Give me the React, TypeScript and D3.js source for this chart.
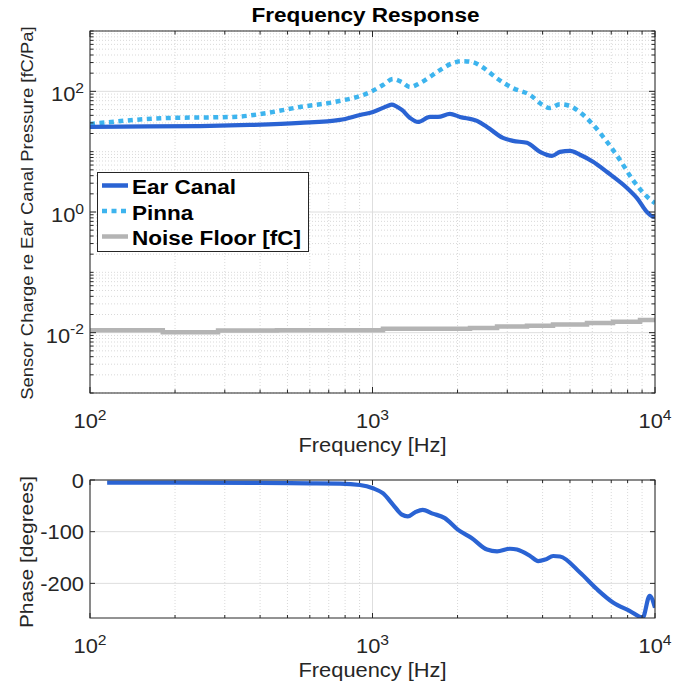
import { useEffect, useRef } from "react"
import * as d3 from "d3"

// ear canal magnitude [fC/Pa]
const earFreq = [100, 163, 245, 368, 554, 767, 903, 1004, 1130, 1170, 1210, 1271, 1358, 1449, 1598, 1706, 1880, 2040, 2344, 2543, 2896, 3142, 3522, 3917, 4318, 4610, 5003, 5426, 6035, 6765, 7962, 8635, 9368, 9839, 10000]
const earCanal = [25.7, 26.2, 26.6, 27.7, 29.9, 33.6, 40.6, 45.5, 57, 60, 57, 49.1, 36.2, 31.1, 37.6, 37.6, 42.2, 37.6, 32.3, 25.7, 16.9, 15.1, 14.0, 9.9, 8.5, 9.9, 10.3, 8.9, 6.8, 4.6, 2.5, 1.7, 1.0, 0.84, 0.84]

// pinna magnitude [fC/Pa]
const pinnaFreq = [100, 187, 321, 423, 554, 725, 980, 1088, 1183, 1271, 1358, 1473, 1733, 1922, 2085, 2260, 2455, 2749, 3142, 3614, 4013, 4244, 4610, 5003, 5426, 6035, 6765, 7514, 8346, 9368, 9839, 10000]
const pinna = [28.7, 36.1, 37.6, 43.8, 55, 66, 97, 127, 160, 142, 118, 137, 225, 294, 316, 305, 251, 166, 113, 87, 59, 53, 61, 57, 45, 28, 14.5, 7.3, 3.4, 1.8, 1.48, 1.4]

// noise floor [fC], stepped
const noiseFreq = [100, 181, 284, 459, 1089, 2214, 2760, 3522, 4355, 5745, 7103, 8851, 10000]
const noiseFloor = [0.011, 0.0102, 0.0109, 0.011, 0.0116, 0.0119, 0.0127, 0.013, 0.0136, 0.0144, 0.0152, 0.0162, 0.0162]

// phase [degrees]
const phaseFreq = [115, 200, 400, 600, 767, 903, 1004, 1088, 1183, 1271, 1333, 1410, 1505, 1633, 1803, 2004, 2242, 2543, 2760, 3067, 3247, 3614, 3858, 4088, 4362, 4610, 5426, 6237, 7103, 8127, 9047, 9574, 10000]
const phase = [-5, -5, -5.5, -6.5, -7, -9.6, -16, -25.6, -48, -67, -70.5, -63, -57.7, -65, -73.7, -96, -112, -134.6, -138, -133, -134.6, -147, -157, -154, -147, -148, -179, -211.5, -237, -253, -266, -224, -247]

const xTickExp = [2, 3, 4]
const magTickExp = [-2, 0, 2]
const phaseTicks = [0, -100, -200]

const legendNames = ["Ear Canal", "Pinna", "Noise Floor [fC]"]

const W = 697, H = 685
const FONT = "'Liberation Sans', Arial, Helvetica, sans-serif"
const AX = "#262626"
const BLUE = "#2a63d3"
const LIGHT = "#3db4ee"
const GRAY = "#b4b4b4"
const SX = 1.12 // text in the reference is a bit wider than Arial

function App() {
  const svgRef = useRef(null)

  useEffect(() => {
    const svg = d3.select(svgRef.current)
    svg.selectAll("*").remove()

    const left = 90, right = 655
    const top1 = 31, bot1 = 393
    const top2 = 480, bot2 = 618

    const x = d3.scaleLog().domain([100, 10000]).range([left, right])
    const y1 = d3.scaleLog().domain([1e-3, 1e3]).range([bot1, top1])
    const y2 = d3.scaleLinear().domain([-267, 0]).range([bot2, top2])

    const isMajorX = (v) => Math.abs(Math.log10(v) - Math.round(Math.log10(v))) < 1e-9
    const xMinor = x.ticks().filter((v) => !isMajorX(v))
    const xMajor = xTickExp.map((e) => Math.pow(10, e))
    const yMajor = magTickExp.map((e) => Math.pow(10, e))
    const yMinor = y1.ticks().filter((v) => !yMajor.some((m) => Math.abs(m - v) / m < 1e-9))

    // text helper: anchored text, stretched horizontally
    const addText = (x0, y0, opts) => {
      const rot = opts.rotate ? ` rotate(${opts.rotate})` : ""
      const g = svg.append("g").attr("transform", `translate(${x0},${y0})${rot} scale(${opts.sx || SX},1)`)
      return g.append("text").attr("x", 0).attr("y", 0)
        .attr("text-anchor", opts.anchor || "middle")
        .attr("font-family", FONT).attr("font-size", opts.size || 19.5)
        .attr("font-weight", opts.bold ? "bold" : "normal")
        .attr("fill", opts.fill || AX)
    }
    const powLabel = (t, e) => {
      t.append("tspan").text("10")
      t.append("tspan").attr("font-size", 14).attr("dy", -8.5).text(String(e))
    }

    const defs = svg.append("defs")
    defs.append("clipPath").attr("id", "clip1").append("rect")
      .attr("x", left).attr("y", top1).attr("width", right - left).attr("height", bot1 - top1)
    defs.append("clipPath").attr("id", "clip2").append("rect")
      .attr("x", left).attr("y", top2).attr("width", right - left).attr("height", bot2 - top2)

    // ---------- top panel ----------
    const g1 = svg.append("g")

    // minor grid
    g1.selectAll(".xminor").data(xMinor).enter().append("line")
      .attr("x1", (d) => x(d)).attr("x2", (d) => x(d)).attr("y1", top1).attr("y2", bot1)
      .attr("stroke", "#cfcfcf").attr("stroke-width", 0.8).attr("stroke-dasharray", "1,2")
    g1.selectAll(".yminor").data(yMinor).enter().append("line")
      .attr("y1", (d) => y1(d)).attr("y2", (d) => y1(d)).attr("x1", left).attr("x2", right)
      .attr("stroke", "#cfcfcf").attr("stroke-width", 0.8).attr("stroke-dasharray", "1,2")
    // major grid
    g1.selectAll(".xmajor").data(xMajor).enter().append("line")
      .attr("x1", (d) => x(d)).attr("x2", (d) => x(d)).attr("y1", top1).attr("y2", bot1)
      .attr("stroke", "#dedede").attr("stroke-width", 1)
    g1.selectAll(".ymajor").data(yMajor).enter().append("line")
      .attr("y1", (d) => y1(d)).attr("y2", (d) => y1(d)).attr("x1", left).attr("x2", right)
      .attr("stroke", "#dedede").attr("stroke-width", 1)

    const lineMag = d3.line().x((d) => x(d[0])).y((d) => y1(d[1])).curve(d3.curveMonotoneX)
    const lines = g1.append("g").attr("clip-path", "url(#clip1)")
    lines.append("path")
      .attr("d", d3.line().x((d) => x(d[0])).y((d) => y1(d[1])).curve(d3.curveStepAfter)(noiseFreq.map((f, i) => [f, noiseFloor[i]])))
      .attr("fill", "none").attr("stroke", GRAY).attr("stroke-width", 4.5)
    lines.append("path")
      .attr("d", lineMag(pinnaFreq.map((f, i) => [f, pinna[i]])))
      .attr("fill", "none").attr("stroke", LIGHT).attr("stroke-width", 4.5).attr("stroke-dasharray", "5,4.5")
    lines.append("path")
      .attr("d", lineMag(earFreq.map((f, i) => [f, earCanal[i]])))
      .attr("fill", "none").attr("stroke", BLUE).attr("stroke-width", 4.2).attr("stroke-linejoin", "round")

    // ticks (inward, on all four sides)
    const tickG1 = g1.append("g").attr("stroke", AX).attr("stroke-width", 1)
    xMinor.forEach((v) => {
      tickG1.append("line").attr("x1", x(v)).attr("x2", x(v)).attr("y1", bot1).attr("y2", bot1 - 3.5)
      tickG1.append("line").attr("x1", x(v)).attr("x2", x(v)).attr("y1", top1).attr("y2", top1 + 3.5)
    })
    xMajor.forEach((v) => {
      tickG1.append("line").attr("x1", x(v)).attr("x2", x(v)).attr("y1", bot1).attr("y2", bot1 - 6)
      tickG1.append("line").attr("x1", x(v)).attr("x2", x(v)).attr("y1", top1).attr("y2", top1 + 6)
    })
    yMinor.forEach((v) => {
      tickG1.append("line").attr("y1", y1(v)).attr("y2", y1(v)).attr("x1", left).attr("x2", left + 3.5)
      tickG1.append("line").attr("y1", y1(v)).attr("y2", y1(v)).attr("x1", right).attr("x2", right - 3.5)
    })
    yMajor.forEach((v) => {
      tickG1.append("line").attr("y1", y1(v)).attr("y2", y1(v)).attr("x1", left).attr("x2", left + 6)
      tickG1.append("line").attr("y1", y1(v)).attr("y2", y1(v)).attr("x1", right).attr("x2", right - 6)
    })
    g1.append("rect").attr("x", left).attr("y", top1).attr("width", right - left).attr("height", bot1 - top1)
      .attr("fill", "none").attr("stroke", AX).attr("stroke-width", 1)

    // tick labels
    xTickExp.forEach((e) => powLabel(addText(x(Math.pow(10, e)), 428, {}), e))
    magTickExp.forEach((e) => powLabel(addText(84, y1(Math.pow(10, e)) + 10, { anchor: "end" }), e))

    addText((left + right) / 2, 452, {}).text("Frequency [Hz]")
    addText(33, (top1 + bot1) / 2 + 1, { rotate: -90, size: 16.5 }).text("Sensor Charge re Ear Canal Pressure [fC/Pa]")
    addText((left + right) / 2 - 7, 22, { bold: true, size: 20.5, sx: 1.1, fill: "#000" }).text("Frequency Response")

    // legend
    const lg = svg.append("g")
    lg.append("rect").attr("x", 97.5).attr("y", 172.5).attr("width", 211).attr("height", 79)
      .attr("fill", "#fff").attr("stroke", AX).attr("stroke-width", 1)
    const legendStyles = [
      { c: BLUE, dash: null },
      { c: LIGHT, dash: "5,4.5" },
      { c: GRAY, dash: null },
    ]
    legendNames.forEach((name, i) => {
      const base = 194 + i * 25.5
      lg.append("line").attr("x1", 102).attr("x2", 128).attr("y1", base - 8.5).attr("y2", base - 8.5)
        .attr("stroke", legendStyles[i].c).attr("stroke-width", 4.5)
        .attr("stroke-dasharray", legendStyles[i].dash)
      addText(132, base, { anchor: "start", bold: true, size: 20.5, sx: 1.1, fill: "#000" }).text(name)
    })

    // ---------- bottom panel ----------
    const g2 = svg.append("g")
    g2.selectAll(".xminor2").data(xMinor).enter().append("line")
      .attr("x1", (d) => x(d)).attr("x2", (d) => x(d)).attr("y1", top2).attr("y2", bot2)
      .attr("stroke", "#cfcfcf").attr("stroke-width", 0.8).attr("stroke-dasharray", "1,2")
    g2.selectAll(".xmajor2").data(xMajor).enter().append("line")
      .attr("x1", (d) => x(d)).attr("x2", (d) => x(d)).attr("y1", top2).attr("y2", bot2)
      .attr("stroke", "#dedede").attr("stroke-width", 1)
    g2.selectAll(".ymajor2").data(phaseTicks).enter().append("line")
      .attr("y1", (d) => y2(d)).attr("y2", (d) => y2(d)).attr("x1", left).attr("x2", right)
      .attr("stroke", "#dedede").attr("stroke-width", 1)

    g2.append("g").attr("clip-path", "url(#clip2)").append("path")
      .attr("d", d3.line().x((d) => x(d[0])).y((d) => y2(d[1])).curve(d3.curveMonotoneX)(phaseFreq.map((f, i) => [f, phase[i]])))
      .attr("fill", "none").attr("stroke", BLUE).attr("stroke-width", 4.2).attr("stroke-linejoin", "round")

    const tickG2 = g2.append("g").attr("stroke", AX).attr("stroke-width", 1)
    xMinor.forEach((v) => {
      tickG2.append("line").attr("x1", x(v)).attr("x2", x(v)).attr("y1", bot2).attr("y2", bot2 - 3)
      tickG2.append("line").attr("x1", x(v)).attr("x2", x(v)).attr("y1", top2).attr("y2", top2 + 3)
    })
    xMajor.forEach((v) => {
      tickG2.append("line").attr("x1", x(v)).attr("x2", x(v)).attr("y1", bot2).attr("y2", bot2 - 5)
      tickG2.append("line").attr("x1", x(v)).attr("x2", x(v)).attr("y1", top2).attr("y2", top2 + 5)
    })
    phaseTicks.forEach((v) => {
      tickG2.append("line").attr("y1", y2(v)).attr("y2", y2(v)).attr("x1", left).attr("x2", left + 5)
      tickG2.append("line").attr("y1", y2(v)).attr("y2", y2(v)).attr("x1", right).attr("x2", right - 5)
    })
    g2.append("rect").attr("x", left).attr("y", top2).attr("width", right - left).attr("height", bot2 - top2)
      .attr("fill", "none").attr("stroke", AX).attr("stroke-width", 1)

    xTickExp.forEach((e) => powLabel(addText(x(Math.pow(10, e)), 653, {}), e))
    phaseTicks.forEach((v) => addText(84, y2(v) + 7.5, { anchor: "end" }).text(String(v)))
    addText((left + right) / 2, 677, {}).text("Frequency [Hz]")
    addText(33, 552, { rotate: -90, size: 19, sx: 1.1 }).text("Phase [degrees]")
  })

  return (
    <div style={{ position: "absolute", left: 0, top: 0 }}>
      <svg ref={svgRef} width={W} height={H} style={{ display: "block", background: "#fff" }}></svg>
    </div>
  )
}

export default App
